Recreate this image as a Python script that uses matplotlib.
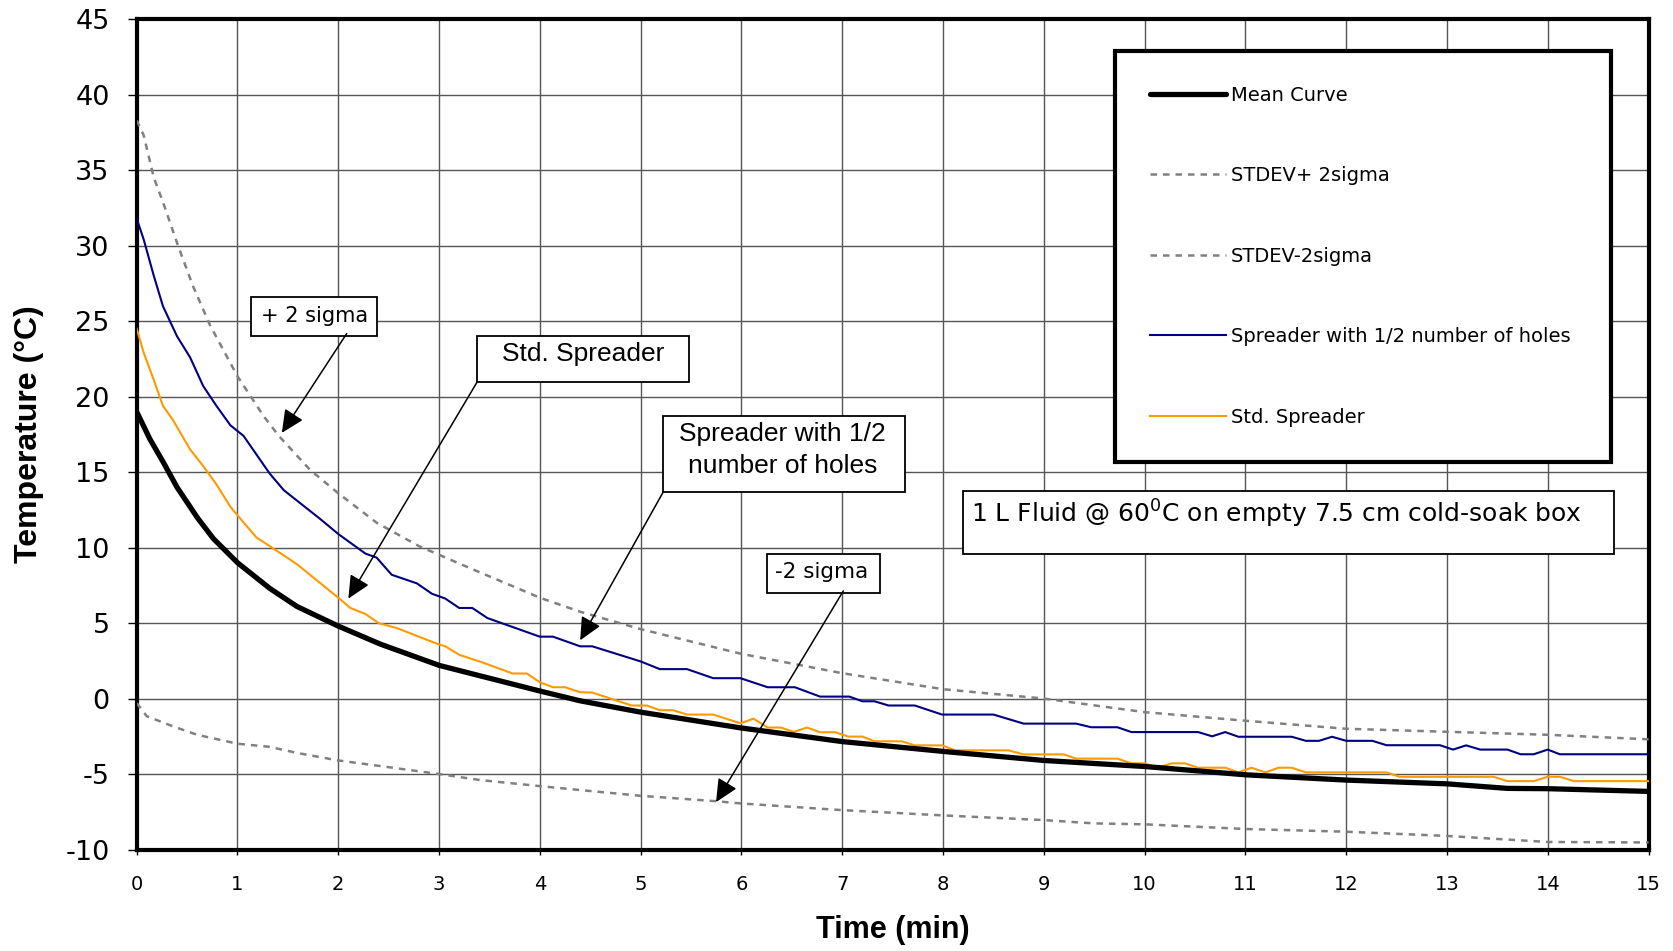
import matplotlib
matplotlib.use("Agg")
import matplotlib.pyplot as plt
from matplotlib.patches import Rectangle

plt.rcParams["font.family"] = "DejaVu Sans"
plt.rcParams["axes.unicode_minus"] = False

# Time (min) / temperature (deg C)
mean_t = [0, 0.13, 0.26, 0.4, 0.5, 0.6, 0.76, 1.0, 1.32, 1.59, 2.0, 2.42, 3.0, 3.41, 4.0,
          4.4, 5.0, 6.0, 7.0, 8.0, 9.0, 10.0, 11.0, 12.0, 13.0, 13.6, 14.0, 15.0]
mean_T = [19.0, 17.2, 15.7, 14.0, 13.0, 12.0, 10.6, 9.0, 7.3, 6.1, 4.8, 3.6, 2.2, 1.5, 0.5,
          -0.15, -0.9, -1.95, -2.85, -3.5, -4.1, -4.5, -5.05, -5.4, -5.65, -5.95, -5.97, -6.15]

upper_t = [0, 0.07, 0.17, 0.26, 0.41, 0.56, 0.73, 1.0, 1.26, 1.41, 1.72, 2.0, 2.38, 2.8,
           3.25, 4.0, 4.4, 5.0, 6.0, 7.0, 8.0, 9.0, 10.0, 11.0, 12.0, 13.0, 14.0, 15.0]
upper_T = [38.3, 37.3, 34.5, 32.9, 30.0, 27.3, 24.7, 21.35, 18.7, 17.4, 15.15, 13.6, 11.65,
           10.1, 8.8, 6.68, 5.75, 4.6, 2.96, 1.68, 0.62, 0.0, -0.9, -1.47, -2.0, -2.2, -2.4, -2.7]

lower_t = [0, 0.1, 0.36, 0.6, 1.0, 1.32, 1.59, 2.0, 2.45, 3.0, 3.41, 4.0, 4.4, 5.0, 5.75,
           6.0, 7.0, 8.0, 9.0, 9.5, 10.0, 11.0, 12.0, 13.0, 14.0, 15.0]
lower_T = [-0.3, -1.17, -1.84, -2.4, -2.99, -3.2, -3.6, -4.1, -4.5, -5.0, -5.4, -5.8, -6.06,
           -6.44, -6.8, -6.95, -7.39, -7.74, -8.05, -8.27, -8.33, -8.64, -8.82, -9.1, -9.5, -9.53]

half_t = [0, 0.07, 0.17, 0.26, 0.4, 0.53, 0.66, 0.79, 0.93, 1.06, 1.19, 1.32, 1.46, 1.82,
          2.0, 2.27, 2.38, 2.53, 2.78, 2.93, 3.06, 3.2, 3.33, 3.48, 4.0, 4.13, 4.4, 4.52,
          5.0, 5.19, 5.46, 5.72, 5.99, 6.26, 6.53, 6.78, 7.07, 7.2, 7.32, 7.46, 7.72, 7.99,
          8.5, 8.8, 9.32, 9.47, 9.73, 9.87, 10.53, 10.67, 10.8, 10.93, 11.46, 11.6, 11.73,
          11.86, 12.0, 12.26, 12.4, 12.93, 13.06, 13.19, 13.33, 13.6, 13.73, 13.86, 14.0,
          14.12, 15.0]
half_T = [31.8, 30.4, 28.0, 26.0, 24.0, 22.6, 20.7, 19.4, 18.1, 17.4, 16.15, 14.9, 13.8, 11.9,
          10.9, 9.6, 9.34, 8.2, 7.63, 6.94, 6.63, 6.0, 6.0, 5.33, 4.1, 4.1, 3.46, 3.46,
          2.46, 1.95, 1.95, 1.35, 1.35, 0.75, 0.75, 0.13, 0.13, -0.18, -0.18, -0.46, -0.46, -1.06,
          -1.06, -1.66, -1.66, -1.9, -1.9, -2.22, -2.22, -2.5, -2.22, -2.53, -2.53, -2.8, -2.8,
          -2.53, -2.8, -2.8, -3.09, -3.09, -3.38, -3.1, -3.38, -3.38, -3.69, -3.69, -3.38,
          -3.69, -3.69]

std_t = [0, 0.07, 0.17, 0.26, 0.36, 0.53, 0.66, 0.79, 0.93, 1.03, 1.19, 1.32, 1.59, 2.0,
         2.12, 2.27, 2.4, 2.58, 3.0, 3.06, 3.2, 3.44, 3.73, 3.87, 4.0, 4.13, 4.25, 4.4, 4.52,
         4.91, 5.06, 5.19, 5.32, 5.46, 5.72, 5.99, 6.12, 6.26, 6.39, 6.52, 6.65, 6.78, 6.93,
         7.06, 7.2, 7.32, 7.59, 7.72, 7.99, 8.12, 8.65, 8.8, 9.2, 9.32, 9.73, 9.87, 10.0,
         10.13, 10.27, 10.4, 10.53, 10.8, 10.93, 11.06, 11.2, 11.33, 11.46, 11.6, 12.4, 12.53,
         13.46, 13.6, 13.86, 14.0, 14.12, 14.26, 15.0]
std_T = [24.5, 22.9, 21.1, 19.4, 18.45, 16.5, 15.4, 14.2, 12.7, 11.9, 10.66, 10.1, 8.9, 6.68,
         6.0, 5.6, 5.0, 4.67, 3.58, 3.47, 2.9, 2.37, 1.66, 1.66, 1.08, 0.75, 0.75, 0.42, 0.4,
         -0.46, -0.46, -0.77, -0.77, -1.06, -1.06, -1.64, -1.33, -1.92, -1.92, -2.21, -1.92,
         -2.23, -2.23, -2.52, -2.52, -2.83, -2.83, -3.1, -3.1, -3.43, -3.43, -3.7, -3.7, -3.98,
         -3.98, -4.29, -4.29, -4.58, -4.29, -4.29, -4.58, -4.58, -4.89, -4.58, -4.89, -4.58,
         -4.58, -4.89, -4.89, -5.18, -5.18, -5.47, -5.47, -5.18, -5.18, -5.47, -5.47]

x_ticks = list(range(0, 16))
y_ticks = list(range(-10, 50, 5))

# callout boxes: text, box (x0, x1, y0, y1), text anchor, arrow tail, arrow tip, font, size
callouts = [
    ("+ 2 sigma", (1.135, 2.385, 24.0, 26.59), (1.76, 25.35), (2.084, 24.18), (1.44, 17.6),
     "DejaVu Sans", 15),
    ("Std. Spreader", (3.377, 5.48, 20.96, 24.0), (4.43, 22.85), (3.377, 20.96), (2.10, 6.62),
     "Liberation Sans", 19),
    ("Spreader with 1/2\nnumber of holes", (5.222, 7.623, 13.66, 18.70), (6.41, 16.45),
     (5.222, 13.66), (4.40, 3.86), "Liberation Sans", 19),
    ("-2 sigma", (6.253, 7.374, 6.98, 9.56), (6.80, 8.40), (7.011, 7.13), (5.748, -6.86),
     "DejaVu Sans", 15.5),
]

fig = plt.figure(figsize=(16.73, 9.51), dpi=100)
ax = fig.add_axes([0.0817, 0.1067, 0.9037, 0.8731])

dash = (0, (2.6, 2.4))
ax.plot(mean_t, mean_T, color="black", lw=3.8, label="Mean Curve", zorder=4,
        solid_capstyle="round")
ax.plot(upper_t, upper_T, color="#808080", lw=1.8, ls=dash, label="STDEV+ 2sigma", zorder=3)
ax.plot(lower_t, lower_T, color="#808080", lw=1.8, ls=dash, label="STDEV-2sigma", zorder=3)
ax.plot(half_t, half_T, color="#000080", lw=1.5, label="Spreader with 1/2 number of holes",
        zorder=3)
ax.plot(std_t, std_T, color="#FF9900", lw=1.5, label="Std. Spreader", zorder=3)

ax.set_xlim(0, 15)
ax.set_ylim(-10, 45)
ax.set_xticks(x_ticks)
ax.set_yticks(y_ticks)
ax.grid(True, color="#555555", lw=1.0)
ax.set_axisbelow(True)
for spine in ax.spines.values():
    spine.set_linewidth(3)
ax.tick_params(axis="y", direction="out", length=6.5, width=1, pad=13, labelsize=19.5)
ax.tick_params(axis="x", direction="out", length=3.5, width=1, pad=15, labelsize=14)

ax.set_xlabel("Time (min)", family="Liberation Sans", fontweight="bold", fontsize=22,
              va="center")
ax.xaxis.set_label_coords(0.5, -0.097)
ax.set_ylabel("Temperature (°C)", family="Liberation Sans", fontweight="bold", fontsize=23,
              va="center")
ax.yaxis.set_label_coords(-0.071, 0.5)

leg = ax.legend(loc="upper left", bbox_to_anchor=(0.647, 0.463, 0.328, 0.499), mode="expand",
                fontsize=14, frameon=True, fancybox=False, borderpad=1.8, labelspacing=3.16,
                handlelength=3.9, handletextpad=0.26, borderaxespad=0)
leg.get_frame().set_edgecolor("black")
leg.get_frame().set_linewidth(3)
leg.get_frame().set_alpha(1)

# note box
ax.add_patch(Rectangle((8.2, 9.56), 6.46, 4.17, facecolor="white", edgecolor="black",
                       lw=1.3, zorder=5))
ax.text(8.28, 12.2, "1 L Fluid @ 60$^0$C on empty 7.5 cm cold-soak box", fontsize=18,
        ha="left", va="center", zorder=6)

for text, box, pos, tail, tip, fam, size in callouts:
    x0, x1, y0, y1 = box
    ax.add_patch(Rectangle((x0, y0), x1 - x0, y1 - y0, facecolor="white", edgecolor="black",
                           lw=1.3, zorder=5))
    ax.text(pos[0], pos[1], text, family=fam, fontsize=size, ha="center", va="center",
            linespacing=1.45, zorder=6)
    ax.annotate("", xy=tip, xytext=tail, zorder=6,
                arrowprops=dict(arrowstyle="-|>,head_length=0.7,head_width=0.33",
                                mutation_scale=20, color="black", lw=1.1,
                                shrinkA=0, shrinkB=0))

fig.savefig("out.png", dpi=100)
